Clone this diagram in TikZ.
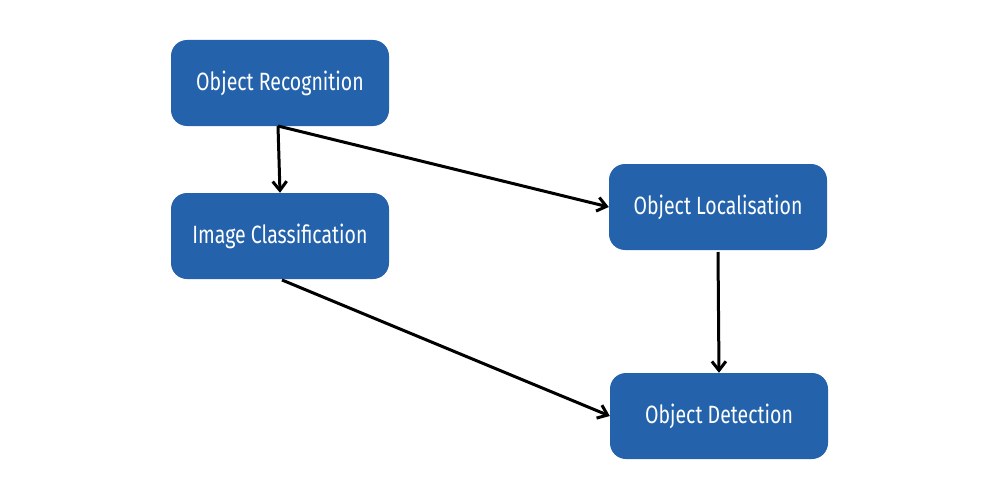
\documentclass[tikz,border=0pt]{standalone}
\usepackage{fontspec}
\setmainfont{Fira Sans}[FakeStretch=0.78]
\usetikzlibrary{arrows.meta}
\definecolor{boxblue}{HTML}{2463AB}
\begin{document}
\begin{tikzpicture}[x=1pt,y=-1pt,
  box/.style={fill=boxblue,rounded corners=16pt,minimum width=218pt,minimum height=86pt,text=white,font=\fontsize{25}{30}\selectfont,inner sep=0pt},
  arr/.style={line width=3pt,-{Straight Barb[length=9pt,width=14pt,line width=3pt]}}]
\useasboundingbox (0,0) rectangle (1000,500);
\node[box] (or) at (280,83) {Object Recognition};
\node[box] (ic) at (280,236) {Image Classification};
\node[box] (ol) at (718,207) {Object Localisation};
\node[box] (od) at (719,416) {Object Detection};
\coordinate (orb) at (278,126);
\coordinate (icb) at (282,280);
\coordinate (olb) at (718,252);
\draw[arr] (orb) -- (ic.north);
\draw[arr] (orb) -- (ol.west);
\draw[arr] (icb) -- (od.west);
\draw[arr] (olb) -- (od.north);
\end{tikzpicture}
\end{document}
